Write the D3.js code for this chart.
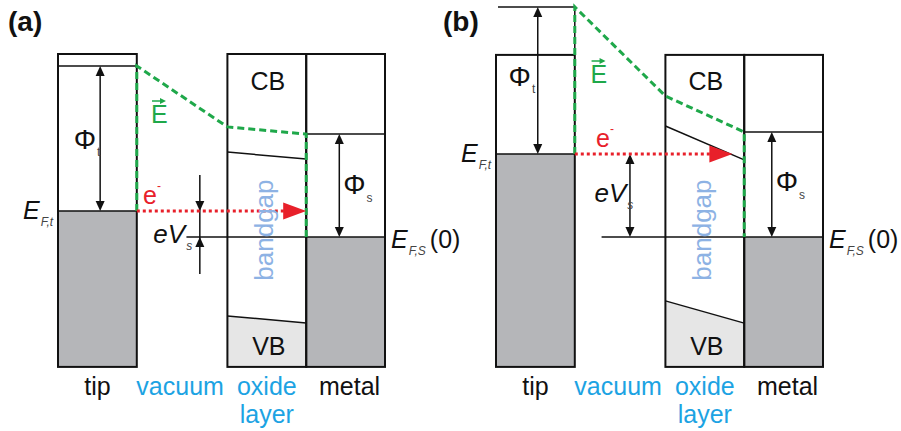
<!DOCTYPE html>
<html>
<head>
<meta charset="utf-8">
<script src="https://cdn.jsdelivr.net/npm/d3@7"></script>
<style>
  body { margin: 0; background: #fff; }
  svg { font-family: "Liberation Sans", Arial, sans-serif; }
</style>
</head>
<body>
<div id="chart"></div>
<script>
// energy levels per panel, arbitrary units (0 = metal Fermi level)
var panelNames = ["(a)", "(b)"];
var regionNames = ["tip", "vacuum", "oxide", "metal"];
var regionEdges = [0, 1, 2.15, 3.15, 4.15];
var boxTop = [6.1, 6.07];
var boxBottom = [-4.33, -4.33];
var tipVacuum = [5.7, 7.67];
var tipFermi = [0.87, 2.77];
var oxideVacuumLeft = [3.67, 4.7];
var metalVacuum = [3.43, 3.5];
var metalFermi = [0, 0];
var cbLeft = [2.83, 3.7];
var cbRight = [2.6, 2.57];
var vbLeft = [-2.63, -2.13];
var vbRight = [-2.87, -2.87];

var svgWidth = 901, svgHeight = 431;
var svg = d3.select("#chart").append("svg")
    .attr("width", svgWidth)
    .attr("height", svgHeight);

var y = d3.scaleLinear().domain([-5, 8]).range([387, -3]);
var panelRange = [[58, 385], [496, 823]];

var green = "#1fa84a", red = "#e8202a", blue = "#1ca3e3", lightBlue = "#8db2e4";
var darkGray = "#b5b6b9", lightGray = "#e6e6e6";

function arrowHead(g, x0, yTip, dir, w, h, color) {
    // dir = 1 points down, -1 points up, 2 points right
    var pts;
    if (dir === 2) pts = [[x0, yTip], [x0 - w, yTip - h / 2], [x0 - w, yTip + h / 2]];
    else pts = [[x0, yTip], [x0 - w / 2, yTip - dir * h], [x0 + w / 2, yTip - dir * h]];
    g.append("path").attr("d", d3.line()(pts) + "Z").attr("fill", color);
}

function sub(g, x0, y0, main, subTxt, opts) {
    var t = g.append("text").attr("x", x0).attr("y", y0)
        .attr("font-size", opts.size || 25)
        .attr("fill", opts.color || "#111");
    t.append("tspan").text(main).attr("font-style", opts.italic ? "italic" : null);
    t.append("tspan").text(subTxt)
        .attr("font-size", opts.subSize || 12)
        .attr("fill", "#444")
        .attr("font-style", opts.subItalic ? "italic" : null)
        .attr("dx", opts.dx || 1)
        .attr("dy", opts.dy || 7);
    if (opts.tail) t.append("tspan").text(opts.tail).attr("dy", -(opts.dy || 7)).attr("dx", 4);
    return t;
}

panelNames.forEach(function(name, i) {
    var x = d3.scaleLinear().domain([0, 4.15]).range(panelRange[i]);
    var g = svg.append("g");
    var xt0 = x(regionEdges[0]), xt1 = x(regionEdges[1]);
    var xo0 = x(regionEdges[2]), xo1 = x(regionEdges[3]), xm1 = x(regionEdges[4]);
    var yTop = y(boxTop[i]), yBot = y(boxBottom[i]);

    // fills
    g.append("rect").attr("x", xt0).attr("y", y(tipFermi[i]))
        .attr("width", xt1 - xt0).attr("height", yBot - y(tipFermi[i])).attr("fill", darkGray);
    g.append("rect").attr("x", xo1).attr("y", y(metalFermi[i]))
        .attr("width", xm1 - xo1).attr("height", yBot - y(metalFermi[i])).attr("fill", darkGray);
    g.append("path")
        .attr("d", d3.line()([[xo0, y(vbLeft[i])], [xo1, y(vbRight[i])], [xo1, yBot], [xo0, yBot]]) + "Z")
        .attr("fill", lightGray);

    // boxes
    var box = function(a, b) {
        g.append("rect").attr("x", a).attr("y", yTop).attr("width", b - a).attr("height", yBot - yTop)
            .attr("fill", "none").attr("stroke", "#111").attr("stroke-width", 2);
    };
    box(xt0, xt1); box(xo0, xo1); box(xo1, xm1);

    var hline = function(a, b, ya, yb, w) {
        g.append("line").attr("x1", a).attr("x2", b).attr("y1", ya).attr("y2", yb === undefined ? ya : yb)
            .attr("stroke", "#111").attr("stroke-width", w || 1.5);
    };
    hline(xt0 + (i ? 2 : 0), xt1, y(tipVacuum[i]));
    hline(xt0, xt1, y(tipFermi[i]));
    hline(xo1, xm1, y(metalVacuum[i]));
    hline(xo1, xm1, y(metalFermi[i]));
    hline(xo0, xo1, y(cbLeft[i]), y(cbRight[i]));
    hline(xo0, xo1, y(vbLeft[i]), y(vbRight[i]));
    if (i === 0) {
        hline(x(1.63), xo1, y(metalFermi[i]));
    } else {
        hline(x(1.34), xo1, y(metalFermi[i]));
        g.append("line").attr("x1", xt1).attr("x2", xt1).attr("y1", y(tipVacuum[i])).attr("y2", yTop)
            .attr("stroke", "#111").attr("stroke-width", 1.5);
    }

    // work function arrows
    var dbl = function(xx, ya, yb) {
        g.append("line").attr("x1", xx).attr("x2", xx).attr("y1", ya + 6).attr("y2", yb - 6)
            .attr("stroke", "#111").attr("stroke-width", 1.5);
        arrowHead(g, xx, ya, -1, 9, 10, "#111");
        arrowHead(g, xx, yb, 1, 9, 10, "#111");
    };
    dbl(x(i ? 0.53 : 0.535), y(tipVacuum[i]), y(tipFermi[i]));
    dbl(x(i ? 3.5 : 3.57), y(metalVacuum[i]), y(metalFermi[i]));

    // bias arrow
    if (i === 0) {
        var xb = x(1.8);
        g.append("line").attr("x1", xb).attr("x2", xb).attr("y1", y(tipFermi[i]) - 36).attr("y2", y(metalFermi[i]) + 37)
            .attr("stroke", "#111").attr("stroke-width", 1.5);
        arrowHead(g, xb, y(tipFermi[i]), 1, 9, 10, "#111");
        arrowHead(g, xb, y(metalFermi[i]), -1, 9, 10, "#111");
    } else {
        dbl(x(1.7), y(tipFermi[i]), y(metalFermi[i]));
    }

    // electric field (green dashed)
    var gpath = [[xt1, y(tipFermi[i])], [xt1, y(tipVacuum[i])],
                 [xo0, y(oxideVacuumLeft[i])], [xo1, y(metalVacuum[i])], [xo1, y(metalFermi[i])]];
    g.append("path").attr("d", d3.line()(gpath)).attr("fill", "none")
        .attr("stroke", green).attr("stroke-width", 3).attr("stroke-dasharray", "7,4");

    // tunnelling electron
    var xArrowTip = i ? x(3.0) : xo1;
    g.append("line").attr("x1", xt1).attr("x2", xArrowTip - 20).attr("y1", y(tipFermi[i])).attr("y2", y(tipFermi[i]))
        .attr("stroke", red).attr("stroke-width", 3).attr("stroke-dasharray", "3,3");
    arrowHead(g, xArrowTip, y(tipFermi[i]), 2, 23, 17, red);
    var ex = x(i ? 1.27 : 1.08), ey = y(tipFermi[i]) - 7;
    g.append("text").attr("x", ex).attr("y", ey).attr("font-size", 25).attr("fill", red).text("e");
    g.append("text").attr("x", ex + 14).attr("y", ey - 14).attr("font-size", 12).attr("fill", red).text("-");

    // E vector label
    var Ex = x(i ? 1.2 : 1.18), Ey = i ? 83 : 123;
    g.append("text").attr("x", Ex).attr("y", Ey).attr("font-size", 25).attr("fill", green).text("E");
    g.append("line").attr("x1", Ex + 1).attr("x2", Ex + 13).attr("y1", Ey - 22).attr("y2", Ey - 22)
        .attr("stroke", green).attr("stroke-width", 1.5);
    arrowHead(g, Ex + 15, Ey - 22, 2, 6, 6, green);

    // bandgap
    var bx = (xo0 + xo1) / 2 + 4;
    g.append("text").attr("transform", "translate(" + (bx + 2) + "," + y(0.23) + ") rotate(-90)")
        .attr("text-anchor", "middle").attr("font-size", 26).attr("fill", lightBlue).text("bandgap");

    // CB / VB
    g.append("text").attr("x", (xo0 + xo1) / 2 + 1).attr("y", 90).attr("text-anchor", "middle")
        .attr("font-size", 25).attr("fill", "#111").text("CB");
    g.append("text").attr("x", (xo0 + xo1) / 2 + 2).attr("y", 355).attr("text-anchor", "middle")
        .attr("font-size", 25).attr("fill", "#111").text("VB");

    // symbols
    sub(g, xt0 - 35, y(tipFermi[i]) + 8, "E", "F,t", { italic: true, subItalic: true, dy: 7 });
    sub(g, xm1 + 6, y(metalFermi[i]) + 11, "E", "F,S", { italic: true, subItalic: true, dy: 7, tail: "(0)" });
    sub(g, x(i ? 0.16 : 0.2), i ? 86 : 149, "Φ", "t", { dy: 7, size: 28 });
    sub(g, x(i ? 3.55 : 3.62), i ? 191 : 194, "Φ", "s", { dy: 8, size: 28 });
    sub(g, x(i ? 1.25 : 1.21), i ? 202 : 243, "eV", "s", { italic: true, subItalic: true, dy: 7, size: 26 });

    // panel tag
    g.append("text").attr("x", i ? 443 : 8).attr("y", 31).attr("font-size", 28).attr("font-weight", "bold")
        .attr("fill", "#111").text(name);

    // region labels
    var centers = regionNames.map(function(r, k) { return x((regionEdges[k] + regionEdges[k + 1]) / 2); });
    var labelColors = ["#111", blue, blue, "#111"];
    regionNames.forEach(function(r, k) {
        g.append("text").attr("x", centers[k] + (k === 3 ? 4 : (k === 1 ? -2 : 0))).attr("y", 395)
            .attr("text-anchor", "middle").attr("font-size", 25).attr("fill", labelColors[k]).text(r);
    });
    g.append("text").attr("x", centers[2]).attr("y", 423).attr("text-anchor", "middle")
        .attr("font-size", 25).attr("fill", blue).text("layer");
});
</script>
</body>
</html>
